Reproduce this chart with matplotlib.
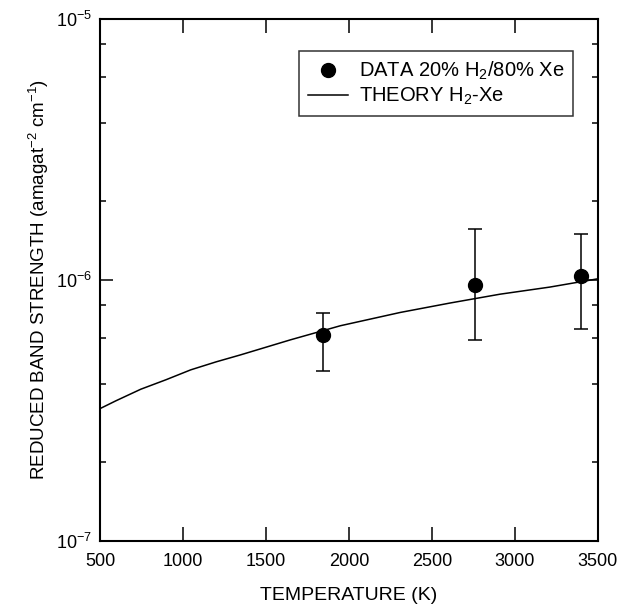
import numpy as np
import matplotlib
matplotlib.use("Agg")
import matplotlib.pyplot as plt
from matplotlib.ticker import LogLocator, FuncFormatter, NullFormatter

plt.rcParams['font.family'] = ['Liberation Sans', 'DejaVu Sans']
plt.rcParams['mathtext.default'] = 'regular'

# measured data (3 points, asymmetric error bars)
data_T = [1847, 2760, 3398]
data_val = [6.12e-7, 9.57e-7, 1.03e-6]
data_hi = [7.48e-7, 1.567e-6, 1.496e-6]
data_lo = [4.49e-7, 5.89e-7, 6.49e-7]

# theory curve H2-Xe
theory_T = [500, 596, 746, 897, 1047, 1200, 1348, 1648, 1949, 2310, 2610,
            2911, 3211, 3500]
theory_val = [3.21e-7, 3.44e-7, 3.81e-7, 4.14e-7, 4.52e-7, 4.85e-7, 5.16e-7,
              5.89e-7, 6.67e-7, 7.50e-7, 8.15e-7, 8.81e-7, 9.38e-7, 1.009e-6]

xticks = [500, 1000, 1500, 2000, 2500, 3000, 3500]
yticks = [1e-7, 1e-6, 1e-5]

fig = plt.figure(figsize=(6.23, 6.07), dpi=100)
ax = fig.add_axes([0.1605, 0.109, 0.799, 0.860])

lo = np.array(data_val) - np.array(data_lo)
hi = np.array(data_hi) - np.array(data_val)
ax.errorbar(data_T, data_val, yerr=[lo, hi], fmt='none', ecolor='black',
            elinewidth=1.1, capsize=5, capthick=1.1)
ax.plot(data_T, data_val, 'o', color='black', markersize=10,
        label=r'DATA 20% H$_2$/80% Xe')
ax.plot(theory_T, theory_val, '-', color='black', linewidth=1.1,
        label=r'THEORY H$_2$-Xe')

ax.set_yscale('log')
ax.set_xlim(500, 3500)
ax.set_ylim(1e-7, 1e-5)

ax.set_xticks(xticks)
ax.set_yticks(yticks)
ax.yaxis.set_minor_locator(LogLocator(base=10, subs=(2, 4, 6, 8)))
ax.yaxis.set_minor_formatter(NullFormatter())
ax.yaxis.set_major_formatter(FuncFormatter(
    lambda v, p: r'$10^{%d}$' % int(round(np.log10(v)))))

ax.tick_params(axis='x', which='major', direction='in', length=10, width=1.1,
               top=True, labelsize=13, pad=9)
ax.tick_params(axis='y', which='major', direction='in', length=9, width=1.1,
               right=True, labelsize=13, pad=6)
ax.tick_params(axis='y', which='minor', direction='in', length=4.5, width=1.1,
               right=True)

for s in ax.spines.values():
    s.set_linewidth(1.5)

ax.set_xlabel('TEMPERATURE (K)', fontsize=14, labelpad=12)
ax.set_ylabel(r'REDUCED BAND STRENGTH (amagat$^{-2}$ cm$^{-1}$)', fontsize=13.5,
              labelpad=3)

leg = ax.legend(loc='upper left', bbox_to_anchor=(0.40, 0.939), fontsize=14.5,
                frameon=True, fancybox=False, edgecolor='black',
                handlelength=2.0, handletextpad=0.5, borderpad=0.45,
                borderaxespad=0, labelspacing=0.2, numpoints=1)
leg.get_frame().set_linewidth(1.1)

fig.savefig('out.png', dpi=100)
